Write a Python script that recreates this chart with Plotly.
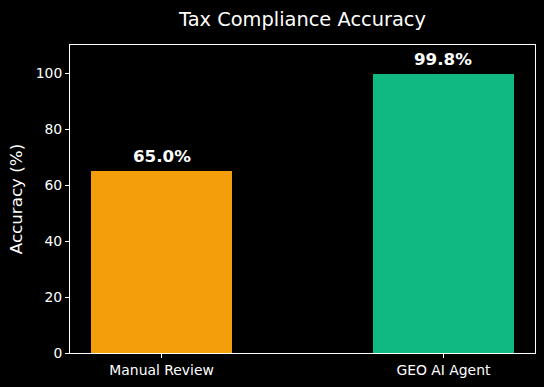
import plotly.graph_objects as go

categories = ["Manual Review", "GEO AI Agent"]
accuracy = [65.0, 99.8]
colors = ["#f59e0b", "#10b981"]
y_ticks = [0, 20, 40, 60, 80, 100]

xpos = list(range(len(categories)))

fig = go.Figure()
fig.add_trace(go.Bar(
    x=xpos, y=accuracy, width=0.5,
    marker=dict(color=colors, line=dict(width=0)),
    hoverinfo="skip",
))

for xi, v in zip(xpos, accuracy):
    fig.add_annotation(
        x=xi, y=v, text=f"<b>{v:.1f}%</b>", showarrow=False,
        yanchor="bottom", yshift=3,
        font=dict(family="DejaVu Sans", size=16.7, color="white"),
    )

fig.update_layout(
    width=544, height=387,
    paper_bgcolor="black", plot_bgcolor="black",
    margin=dict(l=70, r=9, t=45, b=34),
    showlegend=False,
    title=dict(text="Tax Compliance Accuracy", x=(70 + 535) / 2 / 544, xanchor="center",
               y=1 - 19 / 387, yanchor="middle",
               font=dict(family="DejaVu Sans", size=19.4, color="white")),
    font=dict(family="DejaVu Sans", color="white"),
    bargap=0,
)
fig.update_xaxes(
    range=[-0.325, 1.325], tickvals=xpos, ticktext=categories,
    showgrid=False, zeroline=False,
    showline=True, linecolor="white", linewidth=1, mirror=True,
    ticks="outside", ticklen=4, tickcolor="white", tickwidth=1,
    tickfont=dict(family="DejaVu Sans", size=13.9, color="white"),
)
fig.update_yaxes(
    range=[0, 110], tickvals=y_ticks,
    showgrid=False, zeroline=False,
    showline=True, linecolor="white", linewidth=1, mirror=True,
    ticks="outside", ticklen=4, tickcolor="white", tickwidth=1,
    tickfont=dict(family="DejaVu Sans", size=13.9, color="white"),
    title=dict(text="Accuracy (%)", standoff=8,
               font=dict(family="DejaVu Sans", size=16.7, color="white")),
)

fig.write_html("out.html", config={"displayModeBar": False},
               post_script="document.body.style.margin='0';document.body.style.background='black';")
